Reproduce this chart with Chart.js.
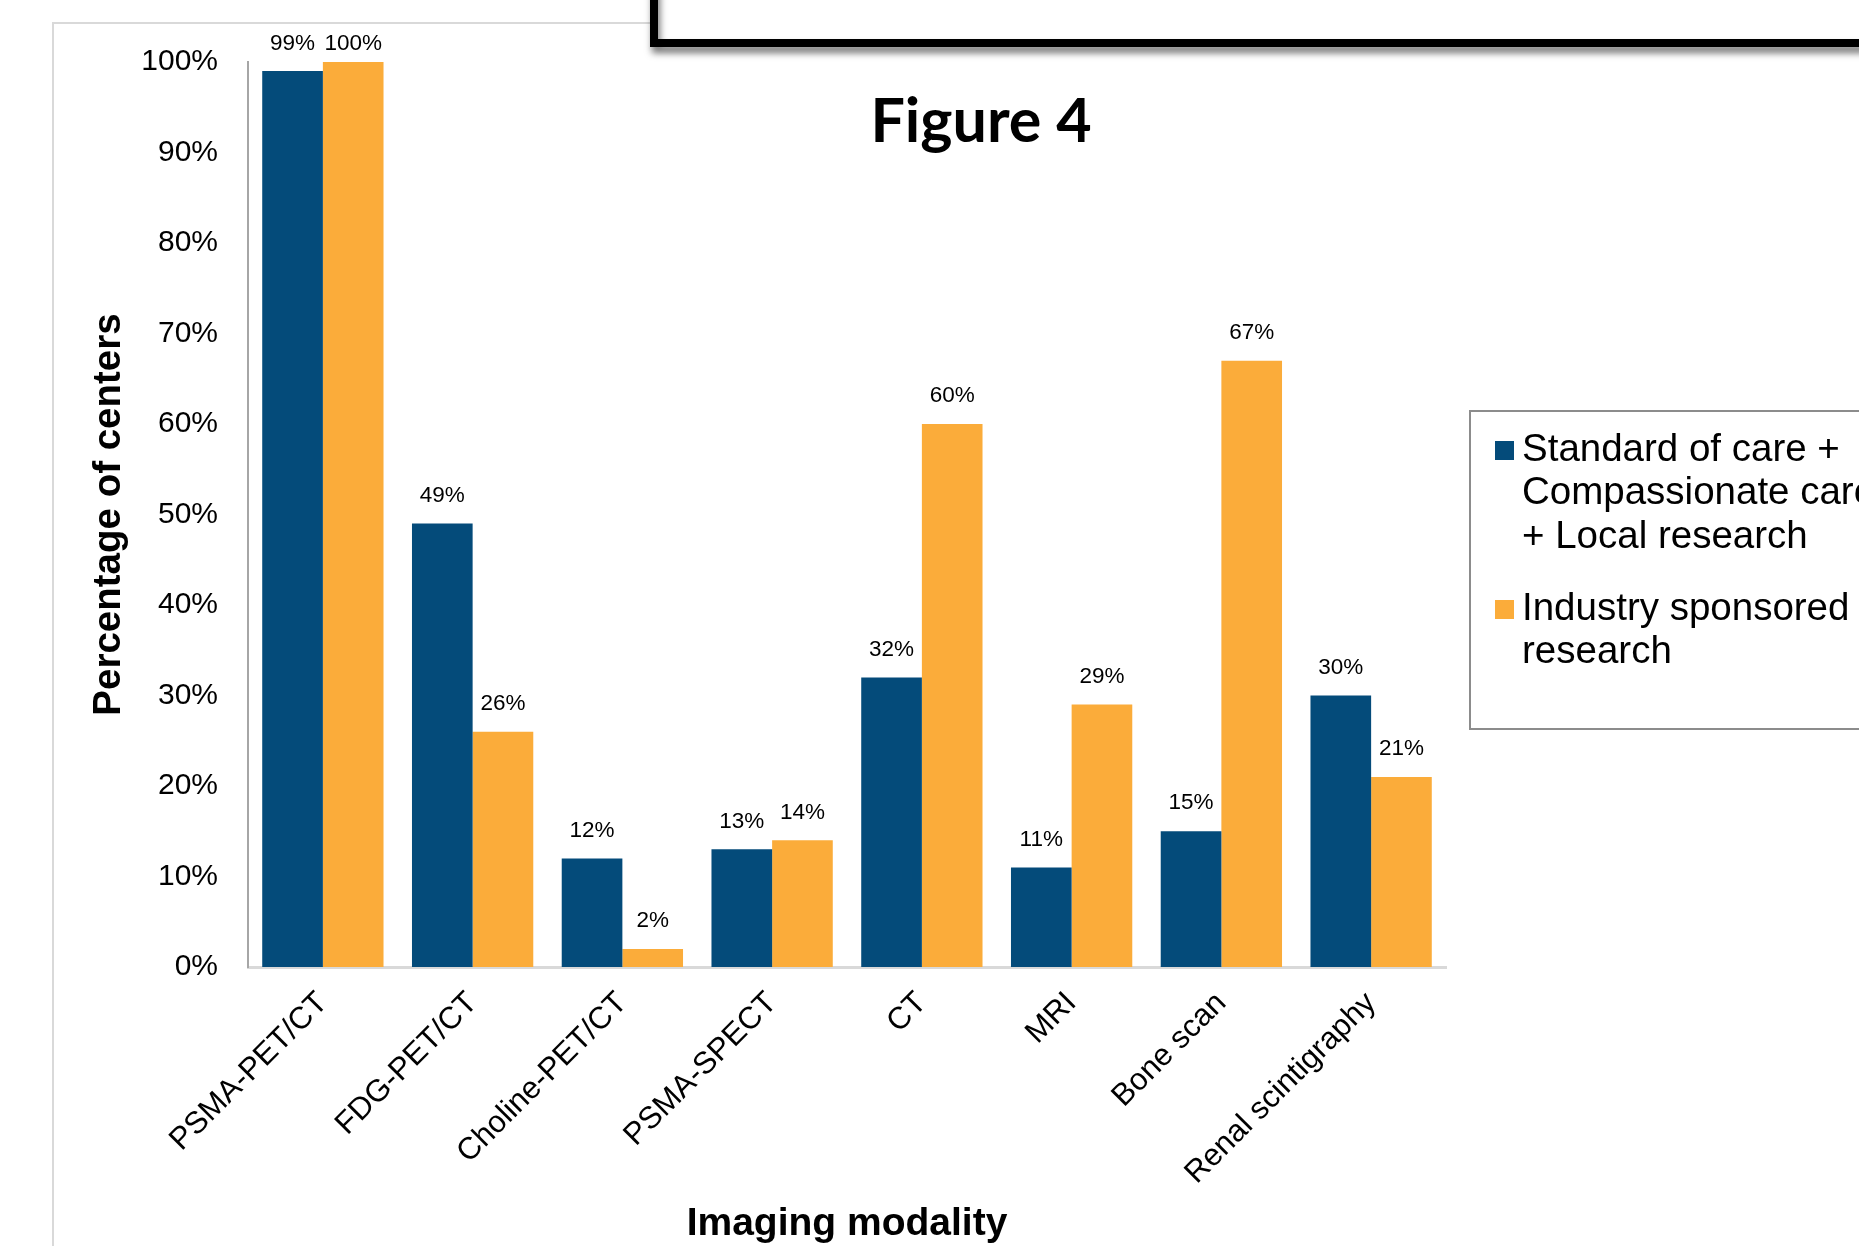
<!DOCTYPE html>
<html>
<head>
<meta charset="utf-8">
<style>
  html, body { margin: 0; padding: 0; background: #ffffff; overflow: hidden; }
  canvas { display: block; }
</style>
<script src="https://cdn.jsdelivr.net/npm/chart.js@4.4.1/dist/chart.umd.min.js"></script>
</head>
<body>
<canvas id="chart" width="1859" height="1246"></canvas>
<script>
// Imaging modalities available per center, by use
const categories = ['PSMA-PET/CT', 'FDG-PET/CT', 'Choline-PET/CT', 'PSMA-SPECT', 'CT', 'MRI', 'Bone scan', 'Renal scintigraphy'];
const standardCareValues = [99, 49, 12, 13, 32, 11, 15, 30];
const industryValues = [100, 26, 2, 14, 60, 29, 67, 21];
const seriesLabels = [
  ['Standard of care +', 'Compassionate care', '+ Local research'],
  ['Industry sponsored', 'research']
];
const seriesColors = ['#044B7A', '#FBAC3A'];
const yTickValues = [0, 10, 20, 30, 40, 50, 60, 70, 80, 90, 100];
const figureTitle = 'Figure 4';
const yAxisTitle = 'Percentage of centers';
const xAxisTitle = 'Imaging modality';

const FONT = '"Liberation Sans", Arial, Helvetica, sans-serif';
Chart.defaults.font.family = FONT;
Chart.defaults.color = '#000000';

// Page furniture: outer frame, boxed header with shadow and the figure heading
const pageDecor = {
  id: 'pageDecor',
  beforeDraw(chart) {
    const ctx = chart.ctx;
    ctx.save();
    ctx.fillStyle = '#ffffff';
    ctx.fillRect(0, 0, chart.width, chart.height);
    ctx.strokeStyle = '#d9d9d9';
    ctx.lineWidth = 2;
    ctx.strokeRect(53, 23, 2200, 2200);
    ctx.restore();
  },
  afterDraw(chart) {
    const ctx = chart.ctx;
    ctx.save();
    ctx.fillStyle = '#ffffff';
    ctx.fillRect(654, -40, 1400, 83);
    ctx.shadowColor = 'rgba(0,0,0,0.55)';
    ctx.shadowBlur = 7;
    ctx.shadowOffsetX = 2;
    ctx.shadowOffsetY = 6;
    ctx.strokeStyle = '#000000';
    ctx.lineWidth = 8;
    ctx.strokeRect(654, -40, 1400, 83);
    ctx.restore();

    ctx.save();
    ctx.fillStyle = '#000000';
    ctx.font = 'bold 61px Lato, "Open Sans", sans-serif';
    ctx.textAlign = 'center';
    ctx.textBaseline = 'alphabetic';
    ctx.fillText(figureTitle, 981, 142);
    ctx.restore();
  }
};

// Value labels above each bar
const valueLabels = {
  id: 'valueLabels',
  afterDatasetsDraw(chart) {
    const ctx = chart.ctx;
    ctx.save();
    ctx.fillStyle = '#000000';
    ctx.font = '22.5px ' + FONT;
    ctx.textAlign = 'center';
    ctx.textBaseline = 'middle';
    chart.data.datasets.forEach((ds, di) => {
      const meta = chart.getDatasetMeta(di);
      meta.data.forEach((bar, i) => {
        const y = Math.max(bar.y - 28, 44);
        ctx.fillText(ds.data[i] + '%', bar.x, y);
      });
    });
    ctx.restore();
  }
};

// Boxed legend on the right, with wrapped series names
const boxLegend = {
  id: 'boxLegend',
  afterDraw(chart) {
    const ctx = chart.ctx;
    ctx.save();
    ctx.strokeStyle = '#8c8c8c';
    ctx.lineWidth = 2;
    ctx.strokeRect(1470, 411, 600, 318);
    ctx.font = '38.5px ' + FONT;
    ctx.textBaseline = 'middle';
    ctx.textAlign = 'left';
    const lineH = 43.5;
    const starts = [450, 609];
    chart.data.datasets.forEach((ds, di) => {
      const y0 = starts[di];
      ctx.fillStyle = ds.backgroundColor;
      ctx.fillRect(1495, y0 - 9, 19, 19);
      ctx.fillStyle = '#000000';
      seriesLabels[di].forEach((line, li) => {
        ctx.fillText(line, 1522, y0 + li * lineH);
      });
    });
    ctx.restore();
  }
};

new Chart(document.getElementById('chart'), {
  type: 'bar',
  data: {
    labels: categories,
    datasets: [
      { label: seriesLabels[0].join(' '), data: standardCareValues, backgroundColor: seriesColors[0], borderWidth: 0 },
      { label: seriesLabels[1].join(' '), data: industryValues, backgroundColor: seriesColors[1], borderWidth: 0 }
    ]
  },
  options: {
    responsive: false,
    animation: false,
    devicePixelRatio: 1,
    layout: { padding: { left: 0, right: 413, top: 62, bottom: 0 } },
    datasets: { bar: { categoryPercentage: 0.81, barPercentage: 1.0 } },
    plugins: {
      legend: { display: false },
      title: { display: false },
      tooltip: { enabled: false }
    },
    scales: {
      x: {
        grid: { display: false, drawTicks: false },
        border: { display: true, color: '#d9d9d9', width: 3 },
        ticks: {
          autoSkip: false,
          minRotation: 45,
          maxRotation: 45,
          padding: 18,
          color: '#000000',
          font: { size: 31 }
        },
        title: {
          display: true,
          text: xAxisTitle,
          color: '#000000',
          font: { size: 39, weight: 'bold', lineHeight: 1 },
          padding: { top: 0, bottom: 2 }
        },
        afterFit(scale) { scale.height = 279; }
      },
      y: {
        min: 0,
        max: 100,
        grid: { display: false, drawTicks: false },
        border: { display: true, color: '#a6a6a6', width: 2 },
        afterBuildTicks(scale) { scale.ticks = yTickValues.map(v => ({ value: v })); },
        ticks: {
          padding: 30,
          color: '#000000',
          font: { size: 30 },
          callback: v => v + '%'
        },
        title: {
          display: true,
          text: yAxisTitle,
          color: '#000000',
          font: { size: 38.5, weight: 'bold', lineHeight: 1 },
          padding: { top: 90, bottom: 0 }
        },
        afterFit(scale) { scale.width = 248; }
      }
    }
  },
  plugins: [pageDecor, valueLabels, boxLegend]
});
</script>
</body>
</html>
